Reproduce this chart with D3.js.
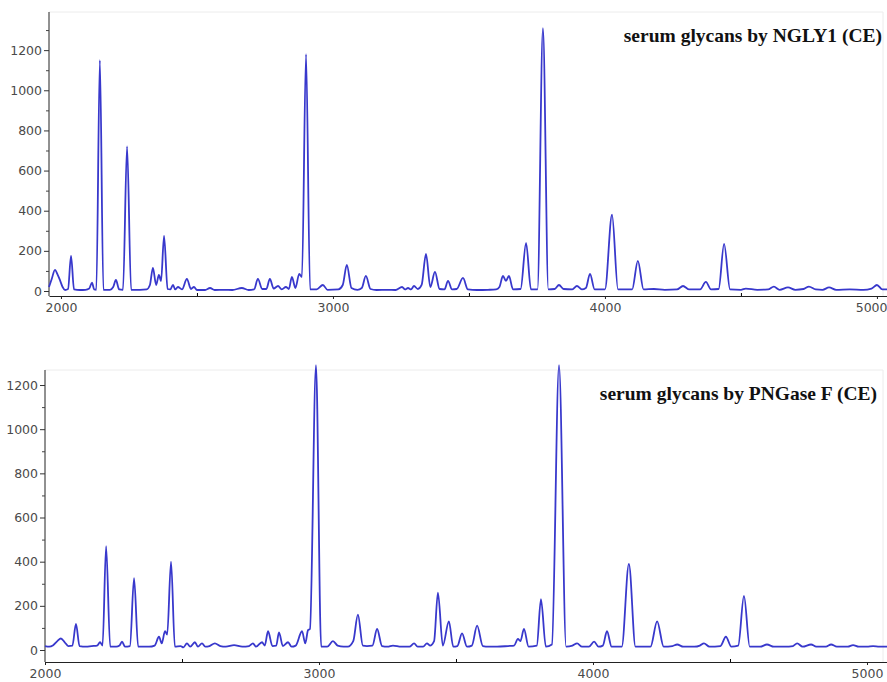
<!DOCTYPE html>
<html>
<head>
<meta charset="utf-8">
<script src="https://cdn.jsdelivr.net/npm/d3@7"></script>
<style>
  body { margin: 0; background: #fff; }
  svg { display: block; }
  .tick text { font-family: "DejaVu Sans", sans-serif; font-size: 12.5px; fill: #4a4a4a; }
  .title { font-family: "Liberation Serif", serif; font-weight: bold; font-size: 19.5px; fill: #111; }
</style>
</head>
<body>
<script>
// spectra: [m/z, intensity]
var ngly1Trace = [
  [1956, 20], [1966, 60], [1978, 105], [1988, 80], [1996, 55], [2006, 20], [2015, 5],
  [2026, 10], [2037, 175], [2048, 8], [2070, 5], [2090, 6], [2104, 12], [2114, 42],
  [2122, 8], [2130, 6], [2143, 1150], [2156, 6], [2180, 6], [2192, 20], [2202, 55],
  [2214, 8], [2228, 6], [2243, 720], [2258, 6], [2290, 6], [2315, 8], [2327, 30],
  [2338, 115], [2350, 30], [2360, 80], [2368, 50], [2379, 275], [2392, 10], [2402, 8],
  [2412, 30], [2420, 8], [2430, 20], [2445, 8], [2463, 60], [2478, 10], [2489, 20],
  [2500, 5], [2530, 5], [2548, 15], [2565, 5], [2600, 6], [2630, 5], [2665, 15],
  [2690, 5], [2710, 8], [2724, 60], [2740, 10], [2755, 10], [2768, 60], [2782, 12],
  [2798, 25], [2812, 8], [2827, 20], [2838, 10], [2849, 70], [2862, 15], [2876, 85],
  [2886, 70], [2901, 1180], [2916, 8], [2940, 8], [2963, 30], [2980, 6], [3020, 8],
  [3036, 30], [3051, 130], [3068, 15], [3090, 6], [3106, 15], [3121, 75], [3138, 10],
  [3160, 5], [3200, 6], [3230, 5], [3254, 20], [3265, 8], [3276, 15], [3287, 8],
  [3298, 25], [3312, 10], [3326, 30], [3342, 185], [3358, 20], [3375, 95], [3392, 10],
  [3410, 8], [3423, 50], [3438, 8], [3455, 10], [3478, 65], [3496, 8], [3530, 5],
  [3570, 6], [3600, 8], [3612, 20], [3625, 75], [3636, 50], [3647, 75], [3662, 8],
  [3690, 10], [3710, 240], [3728, 8], [3752, 8], [3772, 1310], [3792, 8], [3815, 10],
  [3831, 30], [3848, 10], [3880, 8], [3897, 25], [3915, 8], [3930, 15], [3945, 85],
  [3962, 8], [4000, 8], [4026, 380], [4048, 8], [4100, 8], [4121, 150], [4142, 8],
  [4180, 10], [4220, 6], [4265, 8], [4287, 25], [4310, 8], [4350, 8], [4371, 45],
  [4390, 8], [4418, 10], [4438, 235], [4460, 8], [4500, 6], [4518, 12], [4560, 6],
  [4600, 8], [4621, 22], [4642, 6], [4673, 18], [4700, 6], [4730, 10], [4750, 22],
  [4775, 8], [4800, 6], [4824, 18], [4850, 6], [4900, 8], [4950, 6], [4980, 12],
  [5000, 30], [5020, 8], [5037, 8]
];

var pngaseTrace = [
  [2000, 18], [2015, 15], [2030, 22], [2045, 40], [2058, 52], [2072, 35], [2085, 18],
  [2100, 20], [2113, 118], [2126, 18], [2150, 15], [2170, 18], [2190, 20], [2201, 35],
  [2210, 20], [2223, 470], [2238, 15], [2260, 15], [2272, 20], [2281, 38], [2292, 15],
  [2310, 18], [2325, 325], [2340, 15], [2380, 15], [2400, 20], [2416, 60], [2426, 30],
  [2438, 85], [2446, 70], [2460, 400], [2474, 15], [2495, 18], [2505, 12], [2518, 30],
  [2530, 15], [2547, 35], [2558, 15], [2573, 30], [2585, 15], [2600, 18], [2620, 30],
  [2640, 18], [2660, 15], [2690, 22], [2720, 15], [2745, 18], [2759, 30], [2770, 15],
  [2792, 35], [2802, 20], [2814, 85], [2830, 18], [2844, 20], [2854, 80], [2868, 18],
  [2887, 35], [2900, 15], [2915, 20], [2938, 85], [2950, 30], [2960, 90], [2967, 95],
  [2989, 1290], [3008, 15], [3030, 15], [3051, 40], [3068, 20], [3090, 15], [3105, 15],
  [3125, 40], [3142, 160], [3160, 20], [3175, 18], [3195, 20], [3212, 95], [3230, 18],
  [3250, 15], [3270, 20], [3300, 15], [3330, 15], [3347, 30], [3360, 15], [3380, 15],
  [3394, 30], [3405, 20], [3420, 40], [3434, 260], [3452, 20], [3474, 130], [3490, 15],
  [3505, 18], [3522, 75], [3540, 15], [3558, 20], [3577, 110], [3598, 18], [3620, 15],
  [3650, 15], [3690, 18], [3712, 20], [3726, 50], [3735, 40], [3748, 95], [3765, 15],
  [3795, 20], [3810, 230], [3828, 15], [3850, 25], [3876, 1290], [3902, 15], [3925, 20],
  [3942, 30], [3960, 15], [3985, 15], [4004, 38], [4020, 15], [4036, 20], [4051, 85],
  [4068, 15], [4105, 15], [4131, 390], [4155, 15], [4210, 15], [4234, 130], [4258, 15],
  [4290, 18], [4307, 25], [4330, 15], [4370, 15], [4390, 20], [4405, 30], [4425, 15],
  [4465, 18], [4485, 60], [4505, 15], [4530, 20], [4551, 245], [4572, 15], [4610, 15],
  [4635, 25], [4660, 15], [4700, 15], [4730, 18], [4745, 30], [4765, 15], [4796, 25],
  [4815, 15], [4850, 15], [4869, 25], [4890, 15], [4930, 15], [4949, 22], [4970, 15],
  [5000, 15], [5022, 18], [5045, 15], [5073, 15]
];

var xMajorTicks = [2000, 3000, 4000, 5000];
var xMinorTicks = [2500, 3500, 4500];
var yMajorTicks = [0, 200, 400, 600, 800, 1000, 1200];
var yMinorTicks = [100, 300, 500, 700, 900, 1100, 1300];
var titles = ['serum glycans by NGLY1 (CE)', 'serum glycans by PNGase F (CE)'];

var panels = [
  { trace: ngly1Trace, title: titles[0], xDomain: [1956, 5037], yMax: 1390,
    left: 49, right: 887, top: 12, zero: 291, axisY: 296, titleX: 882, titleY: 42 },
  { trace: pngaseTrace, title: titles[1], xDomain: [2000, 5073], yMax: 1268,
    left: 45, right: 887, top: 370, zero: 650, axisY: 662, titleX: 877, titleY: 400 }
];

var fmt = d3.format('d');

var svg = d3.select('body').append('svg')
  .attr('width', 887)
  .attr('height', 682);

panels.forEach(function(p) {
  var x = d3.scaleLinear().domain(p.xDomain).range([p.left, p.right]);
  var y = d3.scaleLinear().domain([0, p.yMax]).range([p.zero, p.top]);

  var g = svg.append('g');

  // faint frame like the original screenshot
  g.append('path')
    .attr('d', 'M' + p.left + ',' + p.top + 'H' + (p.right - 4) + 'V' + p.axisY)
    .attr('fill', 'none')
    .attr('stroke', '#ececec');

  // x axis
  var xAxis = g.append('g')
    .attr('transform', 'translate(0,' + p.axisY + ')')
    .call(d3.axisBottom(x).tickValues(xMajorTicks).tickFormat(fmt)
      .tickSize(3).tickPadding(4).tickSizeOuter(0));
  g.append('g')
    .attr('transform', 'translate(0,' + p.axisY + ')')
    .call(d3.axisBottom(x).tickValues(xMinorTicks).tickSize(-3).tickFormat('').tickSizeOuter(0))
    .select('.domain').remove();
  xAxis.select('.domain').attr('stroke', '#222');
  xAxis.selectAll('.tick line').attr('stroke', '#222');
  // keep the last label inside the window
  xAxis.selectAll('.tick text')
    .filter(function(d) { return x(d) + 16 > 887; })
    .attr('text-anchor', 'end')
    .attr('dx', function(d) { return (887 - x(d)) + 'px'; });

  // y axis
  var yAxis = g.append('g')
    .attr('transform', 'translate(' + p.left + ',0)')
    .call(d3.axisLeft(y).tickValues(yMajorTicks).tickFormat(fmt)
      .tickSize(5).tickPadding(2).tickSizeOuter(0));
  yAxis.select('.domain')
    .attr('d', 'M0,' + p.top + 'V' + p.axisY)
    .attr('stroke', '#222');
  yAxis.selectAll('.tick line').attr('stroke', '#333');
  g.append('g')
    .attr('transform', 'translate(' + p.left + ',0)')
    .call(d3.axisLeft(y).tickValues(yMinorTicks.filter(function(v) { return v <= p.yMax; }))
      .tickSize(3).tickFormat('').tickSizeOuter(0))
    .call(function(s) { s.select('.domain').remove(); })
    .selectAll('.tick line').attr('stroke', '#444');

  // spectrum
  var line = d3.line()
    .x(function(d) { return x(d[0]); })
    .y(function(d) { return y(d[1]); })
    .curve(d3.curveMonotoneX);

  g.append('path')
    .datum(p.trace)
    .attr('d', line)
    .attr('fill', 'none')
    .attr('stroke', '#3838cc')
    .attr('stroke-width', 1.8)
    .attr('stroke-linejoin', 'round');

  g.append('text')
    .attr('class', 'title')
    .attr('x', p.titleX)
    .attr('y', p.titleY)
    .attr('text-anchor', 'end')
    .text(p.title);
});
</script>
</body>
</html>
